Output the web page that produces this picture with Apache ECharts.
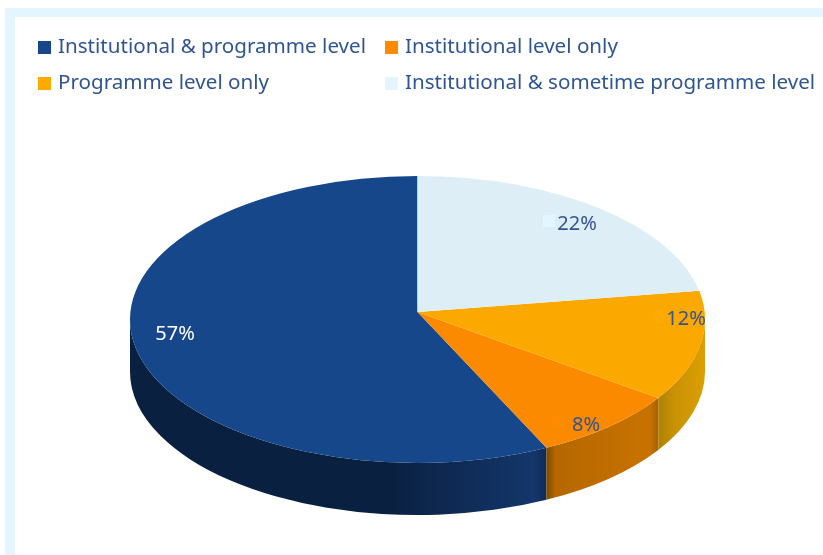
<!DOCTYPE html>
<html>
<head>
<meta charset="utf-8">
<style>
  html, body { margin: 0; padding: 0; background: #fff; }
  #chart { width: 823px; height: 555px; }
</style>
<script src="https://cdn.jsdelivr.net/npm/echarts@6/dist/echarts.min.js"></script>
</head>
<body>
<div id="chart"></div>
<script>
const categories = [
  'Institutional & programme level',
  'Institutional level only',
  'Programme level only',
  'Institutional & sometime programme level'
]
// printed labels are 57, 8, 12, 22 (sum 99), decimals estimated from the slice edges
const values = [57.4, 8.4, 12.4, 21.8]

const topColors = ['#16478a', '#fb8a00', '#fba800', '#deeef7']
const legendColors = ['#16478a', '#ff8c00', '#ffaa00', '#e3f5fe']
const sideStops = [
  [[0, '#0a2040'], [0.62, '#0a2040'], [0.97, '#14366b'], [1, '#0f2a55']],
  [[0, '#7d4a00'], [0.08, '#b56800'], [0.5, '#bf6d00'], [0.92, '#c87300'], [1, '#a86200']],
  [[0, '#b08006'], [0.35, '#c99205'], [1, '#dc9f03']],
  [[0, '#deeef7'], [1, '#deeef7']]
]
const labelColors = ['#ffffff', '#34558f', '#34558f', '#34558f']
// label centres, picked by hand like the original chart has them
const labelPos = [[175, 334], [586, 425], [686, 319], [577, 224]]

const cx = 417.5
const cy = 319.5
const rx = 287.5
const ry = 143.5
const apexY = 312
const depth = 52
const font = '"Noto Sans", sans-serif'

const total = values.reduce((a, b) => a + b, 0)

// angles run counter-clockwise from twelve o'clock, in radians
function angleAt(i) {
  let sum = 0
  for (let k = 0; k < i; k++) sum += values[k]
  return -sum / total * Math.PI * 2
}
function px(t) { return cx + rx * Math.sin(t) }
function py(t) { return cy - ry * Math.cos(t) }

function topPath(a, b) {
  const large = Math.abs(b - a) > Math.PI ? 1 : 0
  return 'M' + cx + ' ' + apexY + 'L' + px(a) + ' ' + py(a) +
    'A' + rx + ' ' + ry + ' 0 ' + large + ' 0 ' + px(b) + ' ' + py(b) + 'Z'
}

// the wall only shows between three and nine o'clock
function sidePath(a, b) {
  const front0 = -1.5 * Math.PI
  const front1 = -0.5 * Math.PI
  const s = Math.min(a, front1)
  const e = Math.max(b, front0)
  if (s <= e) return null
  return 'M' + px(s) + ' ' + py(s) +
    'A' + rx + ' ' + ry + ' 0 0 0 ' + px(e) + ' ' + py(e) +
    'L' + px(e) + ' ' + (py(e) + depth) +
    'A' + rx + ' ' + ry + ' 0 0 1 ' + px(s) + ' ' + (py(s) + depth) + 'Z'
}

function makeRender(i) {
  return function () {
    const a = angleAt(i)
    const b = angleAt(i + 1)
    const children = []
    const side = sidePath(a, b)
    if (side) {
      children.push({
        type: 'path',
        z2: 1,
        shape: { pathData: side },
        style: { fill: new echarts.graphic.LinearGradient(0, 0, 1, 0, sideStops[i].map(s => ({ offset: s[0], color: s[1] }))) }
      })
    }
    children.push({
      type: 'path',
      z2: 2,
      shape: { pathData: topPath(a, b) },
      style: { fill: topColors[i] }
    })
    children.push({
      type: 'rect',
      z2: 3,
      shape: { x: labelPos[i][0] - 34, y: labelPos[i][1] - 9, width: 12, height: 12 },
      style: { fill: legendColors[i] }
    })
    children.push({
      type: 'text',
      z2: 4,
      style: {
        x: labelPos[i][0],
        y: labelPos[i][1],
        text: Math.round(values[i]) + '%',
        fill: labelColors[i],
        font: '20px ' + font,
        align: 'center',
        verticalAlign: 'middle'
      }
    })
    return { type: 'group', children: children }
  }
}

const chart = echarts.init(document.getElementById('chart'), null, { renderer: 'canvas' })

const legendBase = {
  orient: 'vertical',
  top: 32,
  icon: 'rect',
  itemWidth: 13,
  itemHeight: 13,
  itemGap: 15,
  selectedMode: false,
  textStyle: { color: '#2f5592', fontFamily: font, fontSize: 20.6, padding: [0, 0, 0, 2] }
}

chart.setOption({
  animation: false,
  backgroundColor: '#ffffff',
  legend: [
    Object.assign({}, legendBase, { left: 33, data: [categories[0], categories[2]] }),
    Object.assign({}, legendBase, { left: 380, data: [categories[1], categories[3]] })
  ],
  graphic: [
    { type: 'rect', silent: true, shape: { x: 5, y: 8, width: 818, height: 9 }, style: { fill: '#e3f5fe' } },
    { type: 'rect', silent: true, shape: { x: 5, y: 8, width: 10, height: 547 }, style: { fill: '#e3f5fe' } }
  ],
  series: categories.map((name, i) => ({
    name: name,
    type: 'custom',
    coordinateSystem: 'none',
    silent: true,
    itemStyle: { color: legendColors[i] },
    renderItem: makeRender(i),
    data: [values[i]]
  }))
})
</script>
</body>
</html>
